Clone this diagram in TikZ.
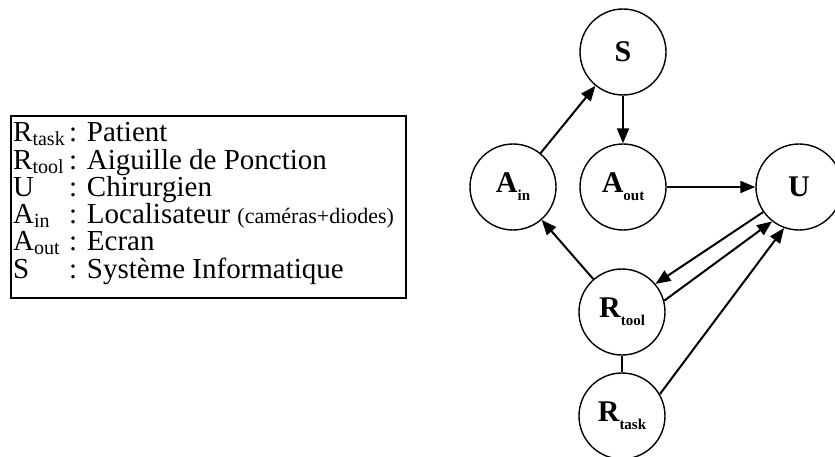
\documentclass[tikz,border=0pt]{standalone}
\usepackage{fontspec}
\setmainfont{Liberation Serif}
\usetikzlibrary{arrows.meta}

\newcommand{\legsub}[1]{\raisebox{-4pt}{\fontsize{20}{20}\selectfont #1}}
\newcommand{\agsub}[1]{\raisebox{-8pt}{\fontsize{15}{15}\selectfont\bfseries #1}}

\begin{document}
\begin{tikzpicture}[x=1pt, y=-1pt,
    agent/.style={draw, circle, line width=1.4pt, minimum size=86pt, inner sep=0pt, font=\fontsize{30}{30}\selectfont\bfseries},
    flow/.style={-{Triangle[length=15pt,width=12pt]}, line width=2pt},
    legline/.style={anchor=base west, inner sep=0pt, font=\fontsize{29}{29}\selectfont}]
  \useasboundingbox (0,0) rectangle (835,457);

  % legende
  \draw[line width=1.2pt] (11,116) rectangle (406,298);
  \node[legline] (k1) at (13,142) {R\legsub{task}};
  \node[legline] (d1) at (69,142) {: Patient};
  \node[legline] (k2) at (13,169.2) {R\legsub{tool}};
  \node[legline] (d2) at (69,169.2) {: Aiguille de Ponction};
  \node[legline] (k3) at (13,196.4) {U};
  \node[legline] (d3) at (69,196.4) {: Chirurgien};
  \node[legline] (k4) at (13,223.6) {A\legsub{in}};
  \node[legline] (d4) at (69,223.6) {: Localisateur {\fontsize{22}{22}\selectfont(caméras+diodes)}};
  \node[legline] (k5) at (13,250.8) {A\legsub{out}};
  \node[legline] (d5) at (69,250.8) {: Ecran};
  \node[legline] (k6) at (13,278) {S};
  \node[legline] (d6) at (69,278) {: Système Informatique};

  % agents
  \node[agent] (s) at (623,52) {S};
  \node[agent] (ain) at (513,187) {A\agsub{in}};
  \node[agent] (aout) at (623,187) {A\agsub{out}};
  \node[agent] (u) at (799,187) {U};
  \node[agent] (rtool) at (622,312) {R\agsub{tool}};
  \node[agent] (rtask) at (622,416) {R\agsub{task}};

  % fleches
  \draw[flow] (ain) -- (s);
  \draw[flow] (s) -- (aout);
  \draw[flow] (aout) -- (u);
  \draw[flow] (rtool) -- (ain);
  \draw[flow] (u.215) -- (rtool.40);
  \draw[flow] (rtool.15) -- (u.232);
  \draw[flow] (rtask.30) -- (u.250);
  \draw[line width=1.4pt] (rtool) -- (rtask);
\end{tikzpicture}
\end{document}
